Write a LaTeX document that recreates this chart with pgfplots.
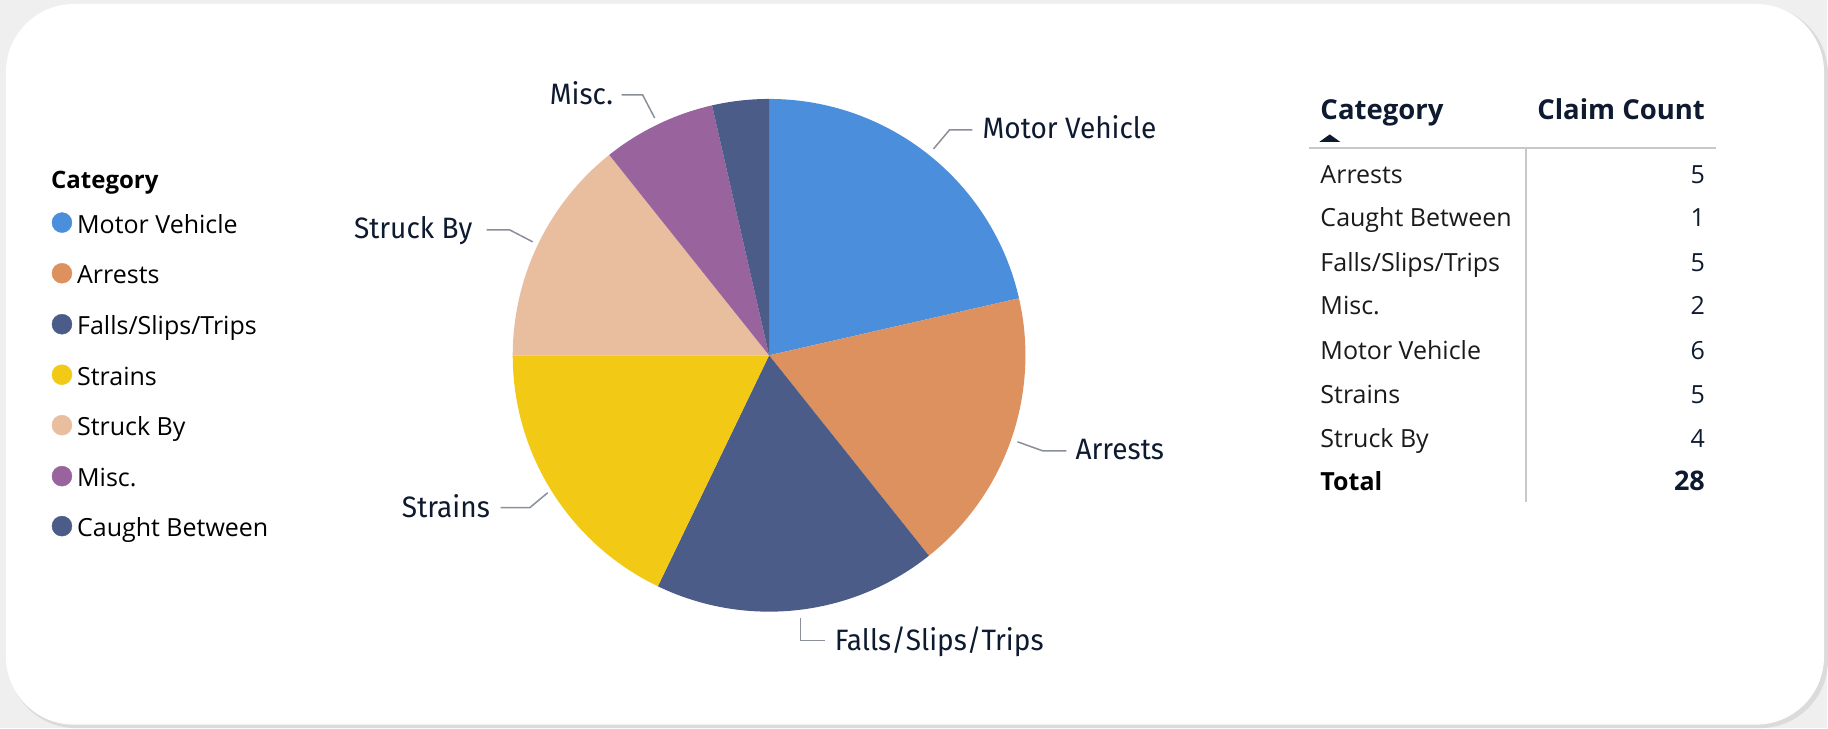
\documentclass[border=0pt]{standalone}
\usepackage{pgfplots}
\pgfplotsset{compat=1.18}
\usepackage{pgfplotstable}
\usepackage{fontspec}
\setmainfont{Open Sans}
\newfontfamily\dinfont[FakeStretch=0.95]{Fira Sans}
\definecolor{cMV}{HTML}{4A8EDC}
\definecolor{cAR}{HTML}{DD915F}
\definecolor{cFA}{HTML}{4B5C88}
\definecolor{cST}{HTML}{F2C915}
\definecolor{cSB}{HTML}{E9BE9F}
\definecolor{cMI}{HTML}{99649E}
\definecolor{cCB}{HTML}{4B5C88}
\definecolor{navy}{HTML}{0E1A30}
\definecolor{txt}{HTML}{1A1A1A}
\definecolor{leader}{HTML}{8A8F99}
\definecolor{bggray}{HTML}{EFEFEF}
\definecolor{rulegray}{HTML}{C8C8C8}

% claim counts, in the pie's clockwise order from 12 o'clock
\pgfplotstableread{
cat value
MotorVehicle 6
Arrests 5
Falls 5
Strains 5
StruckBy 4
Misc 2
CaughtBetween 1
}\piedata

\pgfplotstablegetelem{0}{value}\of\piedata\edef\vA{\pgfplotsretval}
\pgfplotstablegetelem{1}{value}\of\piedata\edef\vB{\pgfplotsretval}
\pgfplotstablegetelem{2}{value}\of\piedata\edef\vC{\pgfplotsretval}
\pgfplotstablegetelem{3}{value}\of\piedata\edef\vD{\pgfplotsretval}
\pgfplotstablegetelem{4}{value}\of\piedata\edef\vE{\pgfplotsretval}
\pgfplotstablegetelem{5}{value}\of\piedata\edef\vF{\pgfplotsretval}
\pgfplotstablegetelem{6}{value}\of\piedata\edef\vG{\pgfplotsretval}
\pgfmathsetmacro\tot{\vA+\vB+\vC+\vD+\vE+\vF+\vG}
\pgfmathsetmacro\aA{90}
\pgfmathsetmacro\aB{\aA-360*\vA/\tot}
\pgfmathsetmacro\aC{\aB-360*\vB/\tot}
\pgfmathsetmacro\aD{\aC-360*\vC/\tot}
\pgfmathsetmacro\aE{\aD-360*\vD/\tot}
\pgfmathsetmacro\aF{\aE-360*\vE/\tot}
\pgfmathsetmacro\aG{\aF-360*\vF/\tot}
\pgfmathsetmacro\aH{\aG-360*\vG/\tot}

\newcommand\slice[3]{\fill[#1] (axis cs:769.5,355.5) -- ++(#2:256.5pt) arc[start angle=#2, end angle=#3, radius=256.5pt] -- cycle;}
\newcommand\lab[3]{\node[anchor=base west, inner sep=0pt, text=navy, font=\dinfont\fontsize{29.5}{32}\selectfont] at (axis cs:#1,#2) {#3};}
\newcommand\legitem[3]{%
  \addplot[only marks, mark=*, mark size=10pt, color=#1] coordinates {(62,#2-10.6)};
  \node[anchor=base west, inner sep=0pt, text=black, font=\fontsize{25}{30}\selectfont] at (axis cs:77,#2) {#3};}
\newcommand\row[3]{%
  \node[anchor=base west, inner sep=0pt, text=txt, font=\fontsize{25}{30}\selectfont] at (axis cs:1321,#1) {#2};
  \node[anchor=base east, inner sep=0pt, text=navy, font=\fontsize{25}{30}\selectfont] at (axis cs:1706,#1) {#3};}

\begin{document}
\begin{tikzpicture}
\begin{axis}[scale only axis, width=1828pt, height=728pt,
  xmin=0, xmax=1828, ymin=0, ymax=728, y dir=reverse,
  hide axis, clip=false]
% background & card
\fill[bggray] (axis cs:0,0) rectangle (axis cs:1828,728);
\fill[black!14, rounded corners=68pt] (axis cs:8,6) rectangle (axis cs:1829,728.5);
\fill[white, rounded corners=68pt] (axis cs:6,4) rectangle (axis cs:1825,725);
% pie
\slice{cMV}{\aA}{\aB}
\slice{cAR}{\aB}{\aC}
\slice{cFA}{\aC}{\aD}
\slice{cST}{\aD}{\aE}
\slice{cSB}{\aE}{\aF}
\slice{cMI}{\aF}{\aG}
\slice{cCB}{\aG}{\aH}
% leader lines
\draw[leader, line width=1.5pt] (axis cs:934,149) -- (axis cs:950,130) -- (axis cs:973,130);
\draw[leader, line width=1.5pt] (axis cs:655,118) -- (axis cs:643,95) -- (axis cs:622,95);
\draw[leader, line width=1.5pt] (axis cs:533,242) -- (axis cs:510,230) -- (axis cs:487,230);
\draw[leader, line width=1.5pt] (axis cs:548,493) -- (axis cs:530,508) -- (axis cs:501,508);
\draw[leader, line width=1.5pt] (axis cs:801,618) -- (axis cs:801,641) -- (axis cs:825,641);
\draw[leader, line width=1.5pt] (axis cs:1018,442) -- (axis cs:1043,451) -- (axis cs:1067,451);
% labels
\lab{983}{139}{Motor Vehicle}
\lab{550}{105}{Misc.}
\lab{354}{239}{Struck By}
\lab{402}{518}{Strains}
\lab{835}{651}{Falls/Slips/Trips}
\lab{1076}{460}{Arrests}
% legend
\node[anchor=base west, inner sep=0pt, text=black, font=\bfseries\fontsize{24}{30}\selectfont] at (axis cs:51,189) {Category};
\legitem{cMV}{233.3}{Motor Vehicle}
\legitem{cAR}{284}{Arrests}
\legitem{cFA}{335}{Falls/Slips/Trips}
\legitem{cST}{385.5}{Strains}
\legitem{cSB}{436}{Struck By}
\legitem{cMI}{487}{Misc.}
\legitem{cCB}{537}{Caught Between}
% table
\node[anchor=base west, inner sep=0pt, text=navy, font=\bfseries\fontsize{27.5}{30}\selectfont] at (axis cs:1321,120) {Category};
\node[anchor=base east, inner sep=0pt, text=navy, font=\bfseries\fontsize{27.5}{30}\selectfont] at (axis cs:1706,120) {Claim Count};
\fill[navy] (axis cs:1320,142) -- (axis cs:1341,142) -- (axis cs:1330.5,134.5) -- cycle;
\draw[rulegray, line width=2.5pt] (axis cs:1310,148.3) -- (axis cs:1717,148.3);
\draw[rulegray, line width=1.8pt] (axis cs:1527,149.5) -- (axis cs:1527,502);
\row{184}{Arrests}{5}
\row{226.7}{Caught Between}{1}
\row{271.7}{Falls/Slips/Trips}{5}
\row{315}{Misc.}{2}
\row{359.3}{Motor Vehicle}{6}
\row{403.3}{Strains}{5}
\row{447.3}{Struck By}{4}
\node[anchor=base west, inner sep=0pt, text=black, font=\bfseries\fontsize{25}{30}\selectfont] at (axis cs:1321,491) {Total};
\node[anchor=base east, inner sep=0pt, text=navy, font=\bfseries\fontsize{27}{30}\selectfont] at (axis cs:1706,491) {28};
\end{axis}
\end{tikzpicture}
\end{document}
